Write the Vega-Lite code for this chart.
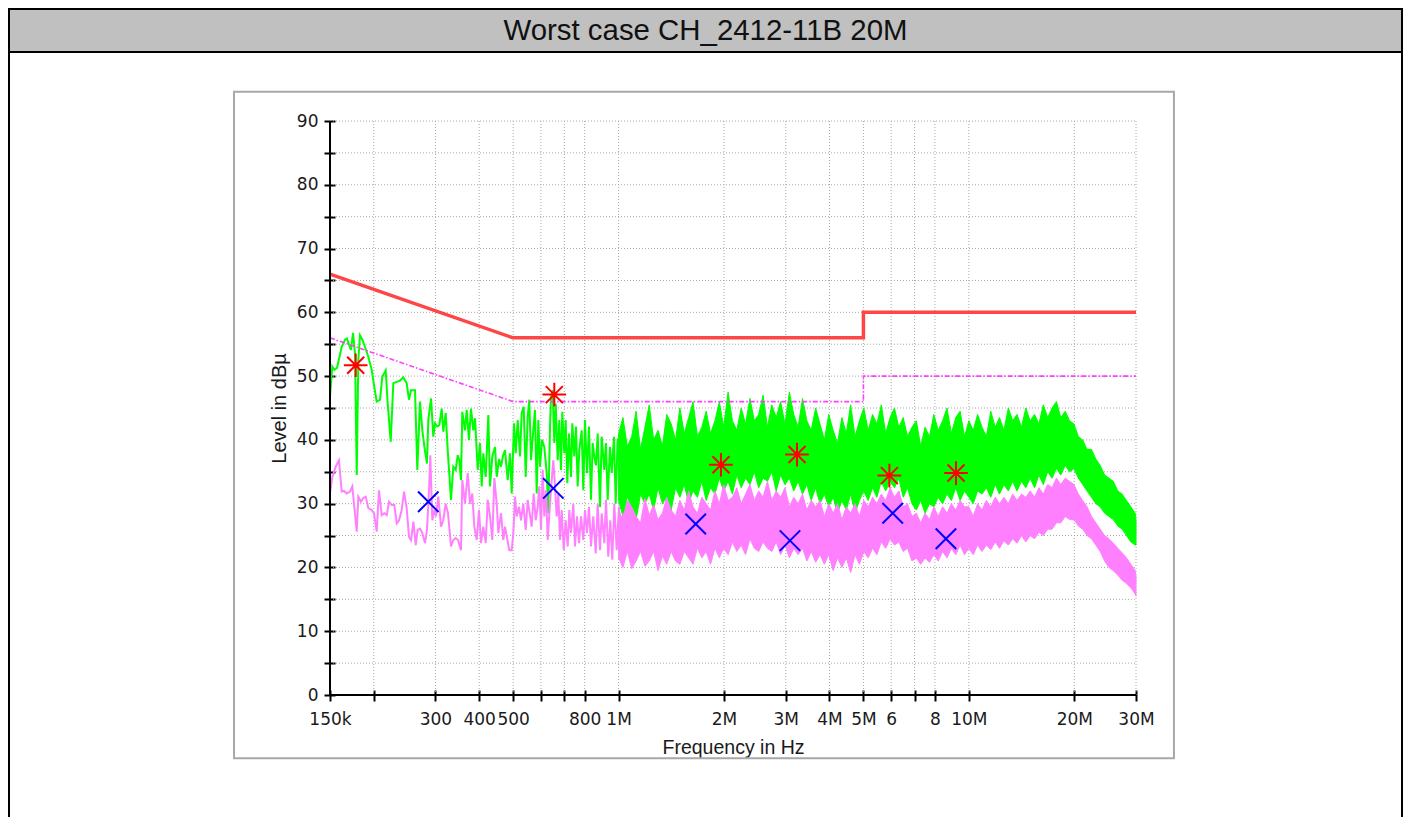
{
 "$schema": "https://vega.github.io/schema/vega-lite/v6.json",
 "background": "white",
 "padding": {"left": 8, "top": 8, "right": 0, "bottom": 0},
 "spacing": 0,
 "bounds": "flush",
 "datasets": {
  "green_sparse": [
   {"f":150000,"v":46.8},{"f":152300,"v":51.5},{"f":154300,"v":51.0},{"f":157100,"v":51.3},{"f":162000,"v":54.6},{"f":165500,"v":55.7},{"f":167700,"v":55.9},{"f":170000,"v":54.9},{"f":172200,"v":54.1},{"f":174500,"v":56.8},{"f":176800,"v":53.5},{"f":178800,"v":34.5},{"f":180700,"v":52.5},{"f":182700,"v":56.4},{"f":185500,"v":55.7},{"f":188800,"v":54.6},{"f":193000,"v":53.0},{"f":197300,"v":51.0},{"f":200700,"v":48.3},{"f":203900,"v":46.0},{"f":208400,"v":46.3},{"f":211600,"v":49.9},{"f":216300,"v":50.9},{"f":219200,"v":45.7},{"f":223600,"v":39.7},{"f":227400,"v":48.9},{"f":232600,"v":49.1},{"f":237600,"v":49.3},{"f":242900,"v":49.8},{"f":248300,"v":48.9},{"f":252100,"v":46.3},{"f":255500,"v":47.8},{"f":262300,"v":47.8},{"f":266300,"v":35.3},{"f":271000,"v":46.0},{"f":275200,"v":41.5},{"f":280100,"v":38.2},{"f":283800,"v":36.3},{"f":286200,"v":43.1},{"f":291400,"v":46.5},{"f":295800,"v":40.5},{"f":299100,"v":42.6},{"f":303700,"v":42.1},{"f":307700,"v":42.3},{"f":312600,"v":44.9},{"f":315900,"v":41.3},{"f":320900,"v":44.2},{"f":325200,"v":38.4},{"f":332300,"v":30.6},{"f":337400,"v":35.8},{"f":342700,"v":35.3},{"f":347300,"v":37.6},{"f":350900,"v":36.8},{"f":354900,"v":33.7},{"f":357900,"v":44.4},{"f":364300,"v":41.5},{"f":368400,"v":44.7},{"f":374000,"v":40.0},{"f":379000,"v":44.9},{"f":384800,"v":41.5},{"f":389100,"v":43.4},{"f":396100,"v":35.3},{"f":402100,"v":39.5},{"f":406600,"v":32.7},{"f":410900,"v":37.9},{"f":417500,"v":34.2},{"f":424700,"v":43.9},{"f":429400,"v":32.7},{"f":436000,"v":37.4},{"f":443800,"v":38.9},{"f":448800,"v":34.2},{"f":455600,"v":37.0},{"f":461600,"v":35.8},{"f":467700,"v":37.5},{"f":473900,"v":38.4},{"f":482400,"v":33.7},{"f":489800,"v":37.9},{"f":495300,"v":31.6},{"f":502800,"v":42.6},{"f":508500,"v":37.9},{"f":515200,"v":43.1},{"f":523100,"v":37.4},{"f":528900,"v":44.2},{"f":535900,"v":45.2},{"f":543000,"v":34.2},{"f":550200,"v":43.6},{"f":556000,"v":46.3},{"f":562300,"v":36.8},{"f":570800,"v":41.5},{"f":577200,"v":44.7},{"f":583700,"v":31.6},{"f":589900,"v":43.1},{"f":596500,"v":35.8},{"f":604400,"v":40.0},{"f":613600,"v":38.9},{"f":623400,"v":34.8},{"f":630000,"v":28.5},{"f":637100,"v":42.1},{"f":641300,"v":46.8},{"f":648500,"v":47.8},{"f":655300,"v":39.5},{"f":661400,"v":45.7},{"f":670100,"v":36.8},{"f":677200,"v":43.1},{"f":684800,"v":35.3},{"f":690700,"v":44.4},{"f":699800,"v":37.9},{"f":706300,"v":43.1},{"f":713800,"v":33.2},{"f":721800,"v":41.0},{"f":731300,"v":34.2},{"f":737600,"v":42.6},{"f":747300,"v":37.4},{"f":755700,"v":42.1},{"f":764200,"v":32.7},{"f":772300,"v":38.4},{"f":784600,"v":41.5},{"f":792900,"v":32.1},{"f":801800,"v":43.1},{"f":812400,"v":34.8},{"f":823200,"v":42.1},{"f":834000,"v":30.6},{"f":843400,"v":39.5},{"f":852300,"v":37.4},{"f":861900,"v":36.0},{"f":871600,"v":41.0},{"f":884900,"v":29.5},{"f":894800,"v":40.5},{"f":910200,"v":35.3},{"f":920500,"v":39.5},{"f":930800,"v":30.6},{"f":945000,"v":38.9},{"f":955600,"v":34.8},{"f":970200,"v":40.5},{"f":981100,"v":30.0},{"f":994000,"v":40.2},{"f":1009000,"v":35.8},{"f":1025000,"v":38.9},{"f":1038000,"v":31.6}
  ],
  "pink_sparse": [
   {"f":150000,"v":31.6},{"f":152300,"v":34.2},{"f":155700,"v":35.8},{"f":159100,"v":36.8},{"f":162000,"v":31.9},{"f":164500,"v":32.0},{"f":167400,"v":31.6},{"f":171100,"v":31.9},{"f":173700,"v":32.7},{"f":178800,"v":25.6},{"f":180700,"v":31.1},{"f":183900,"v":30.3},{"f":186700,"v":30.9},{"f":189700,"v":31.1},{"f":193000,"v":29.3},{"f":197300,"v":29.0},{"f":200300,"v":28.5},{"f":203900,"v":25.6},{"f":207000,"v":32.1},{"f":210700,"v":28.2},{"f":214400,"v":28.5},{"f":217800,"v":28.2},{"f":221100,"v":30.3},{"f":225000,"v":29.8},{"f":228900,"v":29.8},{"f":232600,"v":26.9},{"f":236100,"v":27.4},{"f":240300,"v":29.0},{"f":244000,"v":31.9},{"f":248300,"v":29.3},{"f":252100,"v":24.8},{"f":255500,"v":24.3},{"f":259500,"v":27.2},{"f":263500,"v":23.5},{"f":267000,"v":25.9},{"f":271000,"v":26.1},{"f":275200,"v":25.4},{"f":280100,"v":23.8},{"f":283800,"v":25.9},{"f":287600,"v":32.1},{"f":290000,"v":37.6},{"f":293900,"v":27.4},{"f":297800,"v":29.0},{"f":301100,"v":28.0},{"f":305700,"v":31.1},{"f":311200,"v":26.4},{"f":315900,"v":27.4},{"f":320900,"v":30.0},{"f":325800,"v":28.5},{"f":332300,"v":23.3},{"f":337400,"v":24.3},{"f":342700,"v":24.6},{"f":347900,"v":24.3},{"f":354900,"v":22.7},{"f":357900,"v":33.7},{"f":364300,"v":30.0},{"f":370900,"v":34.8},{"f":376500,"v":30.0},{"f":382200,"v":31.6},{"f":387300,"v":26.4},{"f":393500,"v":24.3},{"f":399500,"v":29.0},{"f":404800,"v":23.8},{"f":410900,"v":26.4},{"f":417500,"v":23.8},{"f":423000,"v":30.6},{"f":429400,"v":28.0},{"f":436000,"v":24.3},{"f":441800,"v":34.0},{"f":448800,"v":30.0},{"f":453500,"v":25.4},{"f":461600,"v":28.5},{"f":468700,"v":24.3},{"f":473900,"v":26.4},{"f":482400,"v":24.0},{"f":487500,"v":22.7},{"f":495300,"v":22.7},{"f":500600,"v":25.4},{"f":506200,"v":31.1},{"f":511800,"v":28.0},{"f":519600,"v":29.5},{"f":526500,"v":27.4},{"f":534500,"v":30.0},{"f":543000,"v":25.9},{"f":550200,"v":30.6},{"f":557400,"v":28.5},{"f":564800,"v":26.4},{"f":572300,"v":31.6},{"f":579900,"v":27.4},{"f":587600,"v":29.5},{"f":593800,"v":32.7},{"f":600400,"v":25.9},{"f":607200,"v":35.3},{"f":613600,"v":28.0},{"f":620500,"v":32.1},{"f":627500,"v":24.3},{"f":637100,"v":30.0},{"f":644200,"v":33.7},{"f":651000,"v":36.8},{"f":658300,"v":32.7},{"f":665700,"v":28.0},{"f":672800,"v":31.6},{"f":680300,"v":24.3},{"f":688000,"v":29.0},{"f":697100,"v":22.7},{"f":706300,"v":27.4},{"f":715600,"v":23.3},{"f":723200,"v":29.0},{"f":731300,"v":25.4},{"f":742400,"v":30.0},{"f":750800,"v":23.3},{"f":760700,"v":28.0},{"f":770800,"v":23.8},{"f":781000,"v":28.0},{"f":792900,"v":24.3},{"f":801800,"v":29.0},{"f":812400,"v":25.4},{"f":823200,"v":29.5},{"f":834000,"v":23.3},{"f":846700,"v":28.0},{"f":860200,"v":22.2},{"f":871600,"v":30.0},{"f":884900,"v":22.7},{"f":894800,"v":28.5},{"f":910200,"v":23.8},{"f":920500,"v":30.6},{"f":934400,"v":21.7},{"f":946800,"v":27.4},{"f":959300,"v":21.2},{"f":972000,"v":30.0},{"f":987500,"v":22.7},{"f":1002500,"v":29.5},{"f":1016000,"v":23.3},{"f":1031000,"v":28.5}
  ],
  "band": [
   {"f":1000000,"gl":30.5,"gh":41.0,"pl":21.5,"ph":29.0},
   {"f":1029000,"gl":28.0,"gh":43.5,"pl":20.0,"ph":27.5},
   {"f":1059000,"gl":31.0,"gh":39.0,"pl":22.5,"ph":30.5},
   {"f":1090000,"gl":29.5,"gh":40.5,"pl":19.8,"ph":29.5},
   {"f":1122000,"gl":27.5,"gh":44.5,"pl":21.0,"ph":28.0},
   {"f":1155000,"gl":31.5,"gh":38.5,"pl":22.5,"ph":27.0},
   {"f":1189000,"gl":30.0,"gh":42.0,"pl":20.2,"ph":30.8},
   {"f":1223000,"gl":31.5,"gh":45.5,"pl":21.0,"ph":28.2},
   {"f":1259000,"gl":29.0,"gh":40.0,"pl":22.5,"ph":29.8},
   {"f":1296000,"gl":32.5,"gh":41.5,"pl":19.5,"ph":27.5},
   {"f":1334000,"gl":30.0,"gh":39.0,"pl":21.8,"ph":28.5},
   {"f":1372000,"gl":31.0,"gh":44.0,"pl":20.5,"ph":31.0},
   {"f":1413000,"gl":29.0,"gh":42.5,"pl":22.5,"ph":29.0},
   {"f":1454000,"gl":32.5,"gh":40.0,"pl":21.0,"ph":28.0},
   {"f":1496000,"gl":31.0,"gh":45.0,"pl":20.5,"ph":30.5},
   {"f":1540000,"gl":33.0,"gh":41.0,"pl":22.5,"ph":29.0},
   {"f":1585000,"gl":30.0,"gh":43.5,"pl":21.5,"ph":32.0},
   {"f":1631000,"gl":32.0,"gh":46.0,"pl":20.5,"ph":29.5},
   {"f":1679000,"gl":31.0,"gh":40.5,"pl":23.0,"ph":28.5},
   {"f":1728000,"gl":33.5,"gh":42.0,"pl":21.5,"ph":31.0},
   {"f":1778000,"gl":30.5,"gh":44.5,"pl":22.5,"ph":30.0},
   {"f":1830000,"gl":32.5,"gh":41.0,"pl":20.5,"ph":29.0},
   {"f":1884000,"gl":31.5,"gh":43.0,"pl":23.0,"ph":32.0},
   {"f":1939000,"gl":34.0,"gh":46.0,"pl":21.5,"ph":30.0},
   {"f":1995000,"gl":32.0,"gh":42.0,"pl":23.0,"ph":33.0},
   {"f":2054000,"gl":33.5,"gh":47.5,"pl":22.0,"ph":30.5},
   {"f":2113000,"gl":31.5,"gh":43.0,"pl":24.0,"ph":31.0},
   {"f":2175000,"gl":34.5,"gh":41.5,"pl":22.5,"ph":32.5},
   {"f":2239000,"gl":32.5,"gh":45.0,"pl":23.5,"ph":30.0},
   {"f":2304000,"gl":34.0,"gh":42.5,"pl":22.0,"ph":31.5},
   {"f":2371000,"gl":33.0,"gh":46.5,"pl":24.5,"ph":33.0},
   {"f":2441000,"gl":35.0,"gh":43.0,"pl":23.0,"ph":30.5},
   {"f":2512000,"gl":32.5,"gh":44.0,"pl":22.5,"ph":32.0},
   {"f":2585000,"gl":34.0,"gh":47.0,"pl":24.0,"ph":31.0},
   {"f":2661000,"gl":33.5,"gh":42.0,"pl":23.0,"ph":33.5},
   {"f":2738000,"gl":35.0,"gh":45.5,"pl":22.5,"ph":30.5},
   {"f":2818000,"gl":32.0,"gh":43.5,"pl":24.0,"ph":32.0},
   {"f":2901000,"gl":34.5,"gh":46.0,"pl":22.0,"ph":31.0},
   {"f":2985000,"gl":33.0,"gh":42.5,"pl":23.5,"ph":32.5},
   {"f":3073000,"gl":34.0,"gh":47.5,"pl":21.5,"ph":29.5},
   {"f":3162000,"gl":32.0,"gh":44.0,"pl":23.0,"ph":31.0},
   {"f":3255000,"gl":33.5,"gh":42.0,"pl":22.0,"ph":30.0},
   {"f":3350000,"gl":31.5,"gh":46.5,"pl":23.0,"ph":31.5},
   {"f":3447000,"gl":33.0,"gh":43.0,"pl":21.0,"ph":29.0},
   {"f":3548000,"gl":30.5,"gh":41.5,"pl":22.5,"ph":30.5},
   {"f":3652000,"gl":32.5,"gh":45.0,"pl":20.8,"ph":29.5},
   {"f":3758000,"gl":30.0,"gh":42.5,"pl":22.0,"ph":30.5},
   {"f":3868000,"gl":31.5,"gh":40.0,"pl":20.5,"ph":28.0},
   {"f":3981000,"gl":29.5,"gh":44.0,"pl":22.0,"ph":30.0},
   {"f":4097000,"gl":31.0,"gh":41.5,"pl":19.5,"ph":28.5},
   {"f":4217000,"gl":28.5,"gh":39.5,"pl":21.5,"ph":30.0},
   {"f":4340000,"gl":30.5,"gh":43.5,"pl":20.0,"ph":27.5},
   {"f":4467000,"gl":29.0,"gh":41.0,"pl":21.5,"ph":29.5},
   {"f":4597000,"gl":31.5,"gh":45.5,"pl":19.2,"ph":28.5},
   {"f":4732000,"gl":28.5,"gh":40.5,"pl":22.0,"ph":30.0},
   {"f":4870000,"gl":30.5,"gh":43.0,"pl":20.5,"ph":28.0},
   {"f":5012000,"gl":32.0,"gh":45.0,"pl":22.5,"ph":30.5},
   {"f":5158000,"gl":30.5,"gh":41.5,"pl":21.5,"ph":29.5},
   {"f":5309000,"gl":32.5,"gh":44.0,"pl":23.0,"ph":31.0},
   {"f":5464000,"gl":31.0,"gh":42.5,"pl":22.0,"ph":30.0},
   {"f":5623000,"gl":33.5,"gh":45.5,"pl":24.0,"ph":31.5},
   {"f":5788000,"gl":32.0,"gh":41.0,"pl":23.0,"ph":30.5},
   {"f":5957000,"gl":33.5,"gh":43.5,"pl":24.5,"ph":32.5},
   {"f":6131000,"gl":32.5,"gh":45.0,"pl":23.5,"ph":31.0},
   {"f":6310000,"gl":34.0,"gh":42.0,"pl":24.0,"ph":32.0},
   {"f":6494000,"gl":31.0,"gh":43.5,"pl":22.5,"ph":29.5},
   {"f":6683000,"gl":32.5,"gh":40.5,"pl":23.0,"ph":30.0},
   {"f":6879000,"gl":30.0,"gh":42.0,"pl":21.0,"ph":28.0},
   {"f":7079000,"gl":29.0,"gh":43.0,"pl":21.5,"ph":28.5},
   {"f":7286000,"gl":30.5,"gh":39.0,"pl":20.5,"ph":27.0},
   {"f":7499000,"gl":28.5,"gh":42.0,"pl":21.5,"ph":28.5},
   {"f":7718000,"gl":30.0,"gh":40.5,"pl":20.8,"ph":27.5},
   {"f":7943000,"gl":29.5,"gh":44.0,"pl":22.0,"ph":29.5},
   {"f":8175000,"gl":31.0,"gh":41.5,"pl":21.0,"ph":28.0},
   {"f":8414000,"gl":30.0,"gh":43.0,"pl":22.5,"ph":29.5},
   {"f":8660000,"gl":31.5,"gh":45.0,"pl":21.5,"ph":28.5},
   {"f":8913000,"gl":30.5,"gh":41.0,"pl":23.0,"ph":30.0},
   {"f":9173000,"gl":32.5,"gh":43.5,"pl":22.0,"ph":29.0},
   {"f":9441000,"gl":30.5,"gh":44.5,"pl":23.5,"ph":30.5},
   {"f":9716000,"gl":32.0,"gh":40.5,"pl":22.0,"ph":29.5},
   {"f":10000000,"gl":31.0,"gh":43.0,"pl":23.0,"ph":29.5},
   {"f":10290000,"gl":30.0,"gh":41.5,"pl":22.0,"ph":28.0},
   {"f":10590000,"gl":32.0,"gh":44.0,"pl":23.5,"ph":30.0},
   {"f":10900000,"gl":31.5,"gh":42.0,"pl":22.5,"ph":29.0},
   {"f":11220000,"gl":32.5,"gh":40.5,"pl":23.5,"ph":30.5},
   {"f":11550000,"gl":31.0,"gh":44.5,"pl":22.8,"ph":29.5},
   {"f":11890000,"gl":33.0,"gh":42.0,"pl":24.0,"ph":31.0},
   {"f":12230000,"gl":31.5,"gh":43.5,"pl":23.0,"ph":30.0},
   {"f":12590000,"gl":33.0,"gh":41.5,"pl":24.2,"ph":31.0},
   {"f":12960000,"gl":32.0,"gh":45.0,"pl":23.5,"ph":30.0},
   {"f":13340000,"gl":33.5,"gh":43.0,"pl":24.5,"ph":31.5},
   {"f":13720000,"gl":32.0,"gh":44.0,"pl":23.8,"ph":30.5},
   {"f":14130000,"gl":33.5,"gh":42.0,"pl":25.0,"ph":31.5},
   {"f":14540000,"gl":32.5,"gh":45.0,"pl":24.0,"ph":31.0},
   {"f":14960000,"gl":34.0,"gh":43.0,"pl":25.0,"ph":32.0},
   {"f":15400000,"gl":32.5,"gh":44.0,"pl":24.5,"ph":31.0},
   {"f":15850000,"gl":34.5,"gh":42.5,"pl":25.5,"ph":32.5},
   {"f":16310000,"gl":33.0,"gh":45.5,"pl":25.0,"ph":31.5},
   {"f":16790000,"gl":35.0,"gh":43.5,"pl":26.0,"ph":33.0},
   {"f":17280000,"gl":34.0,"gh":45.0,"pl":26.0,"ph":32.5},
   {"f":17780000,"gl":35.5,"gh":46.0,"pl":27.0,"ph":34.0},
   {"f":18300000,"gl":34.5,"gh":43.5,"pl":27.0,"ph":33.0},
   {"f":18840000,"gl":36.0,"gh":44.5,"pl":28.0,"ph":34.0},
   {"f":19390000,"gl":35.0,"gh":43.0,"pl":27.5,"ph":33.5},
   {"f":19950000,"gl":35.5,"gh":42.5,"pl":27.5,"ph":33.0},
   {"f":20540000,"gl":34.0,"gh":40.5,"pl":26.5,"ph":31.5},
   {"f":21130000,"gl":33.0,"gh":40.0,"pl":26.0,"ph":30.5},
   {"f":21750000,"gl":32.0,"gh":38.5,"pl":25.0,"ph":29.5},
   {"f":22390000,"gl":31.0,"gh":38.5,"pl":24.5,"ph":28.0},
   {"f":23040000,"gl":30.0,"gh":37.0,"pl":23.5,"ph":27.0},
   {"f":23710000,"gl":29.5,"gh":36.0,"pl":22.5,"ph":26.0},
   {"f":24410000,"gl":28.5,"gh":34.5,"pl":21.0,"ph":25.0},
   {"f":25120000,"gl":28.0,"gh":34.0,"pl":20.0,"ph":24.5},
   {"f":25850000,"gl":27.5,"gh":33.5,"pl":19.5,"ph":23.8},
   {"f":26610000,"gl":26.5,"gh":32.0,"pl":18.8,"ph":23.0},
   {"f":27380000,"gl":26.0,"gh":31.5,"pl":18.0,"ph":22.3},
   {"f":28180000,"gl":25.0,"gh":30.5,"pl":17.5,"ph":21.5},
   {"f":29010000,"gl":24.0,"gh":29.5,"pl":16.8,"ph":20.5},
   {"f":29850000,"gl":23.5,"gh":28.5,"pl":15.8,"ph":19.5},
   {"f":30000000,"gl":23.5,"gh":27.5,"pl":15.5,"ph":18.5}
  ],
  "qp_limit": [{"f":150000,"v":66,"i":0},{"f":500000,"v":56,"i":1},{"f":5000000,"v":56,"i":2},{"f":5000000,"v":60,"i":3},{"f":30000000,"v":60,"i":4}],
  "av_limit": [{"f":150000,"v":56,"i":0},{"f":500000,"v":46,"i":1},{"f":5000000,"v":46,"i":2},{"f":5000000,"v":50,"i":3},{"f":30000000,"v":50,"i":4}],
  "qp_peaks": [{"f":177600,"v":51.7},{"f":655300,"v":47.1},{"f":1960000,"v":36.1},{"f":3231000,"v":37.7},{"f":5930000,"v":34.4},{"f":9190000,"v":34.8}],
  "av_peaks": [{"f":286200,"v":30.3},{"f":651000,"v":32.4},{"f":1660000,"v":26.8},{"f":3085000,"v":24.2},{"f":6060000,"v":28.5},{"f":8600000,"v":24.5}],
  "xgrid": [{"f":200000},{"f":300000},{"f":400000},{"f":500000},{"f":600000},{"f":700000},{"f":800000},{"f":1000000},{"f":2000000},{"f":3000000},{"f":4000000},{"f":5000000},{"f":6000000},{"f":7000000},{"f":8000000},{"f":10000000},{"f":20000000},{"f":30000000}],
  "ygrid": [{"v":5},{"v":10},{"v":15},{"v":20},{"v":25},{"v":30},{"v":35},{"v":40},{"v":45},{"v":50},{"v":55},{"v":60},{"v":65},{"v":70},{"v":75},{"v":80},{"v":85},{"v":90}]
 },
 "vconcat": [
  {
   "width": 1393,
   "height": 43,
   "view": {"fill": "#c0c0c0", "stroke": "#000000", "strokeWidth": 2},
   "data": {"values": [{"t": "Worst case CH_2412-11B 20M"}]},
   "mark": {"type": "text", "font": "Liberation Sans", "fontSize": 29.4, "fill": "#111111", "align": "center", "baseline": "middle"},
   "encoding": {"text": {"field": "t", "type": "nominal"}}
  },
  {
   "width": 1393,
   "height": 770,
   "view": {"fill": "#ffffff", "stroke": "#000000", "strokeWidth": 2},
   "layer": [
    {
     "data": {"name": "green_sparse"},
     "mark": {"type": "line", "stroke": "#00ff00", "strokeWidth": 2, "opacity": 0},
     "encoding": {
      "x": {
       "field": "f", "type": "quantitative", "title": "Frequency in Hz",
       "scale": {"type": "log", "domain": [150000, 30000000], "range": [321, 1127], "nice": false},
       "axis": {
        "offset": -132, "domain": false, "grid": false,
        "values": [150000, 200000, 300000, 400000, 500000, 600000, 700000, 800000, 1000000, 2000000, 3000000, 4000000, 5000000, 6000000, 7000000, 8000000, 10000000, 20000000, 30000000],
        "labelExpr": "datum.value==150000?'150k':datum.value==300000?'300':datum.value==400000?'400':datum.value==500000?'500':datum.value==800000?'800':datum.value==1000000?'1M':datum.value==2000000?'2M':datum.value==3000000?'3M':datum.value==4000000?'4M':datum.value==5000000?'5M':datum.value==6000000?'6':datum.value==8000000?'8':datum.value==10000000?'10M':datum.value==20000000?'20M':datum.value==30000000?'30M':''",
        "tickSize": 11, "tickWidth": 2, "tickColor": "#000000",
        "labelFont": "DejaVu Sans", "labelFontSize": 17, "labelColor": "#1a1a1a", "labelPadding": 10,
        "labelOverlap": false, "labelFlush": false, "labelBound": false,
        "title": "Frequency in Hz", "titleFont": "Liberation Sans", "titleFontSize": 19.5, "titleFontWeight": "normal", "titleColor": "#1a1a1a", "titlePadding": 11
       }
      },
      "y": {
       "field": "v", "type": "quantitative", "title": "Level in dBµ",
       "scale": {"domain": [0, 90], "range": [643, 69], "nice": false, "zero": false},
       "axis": {
        "offset": -326, "domain": false, "grid": false,
        "values": [0, 5, 10, 15, 20, 25, 30, 35, 40, 45, 50, 55, 60, 65, 70, 75, 80, 85, 90],
        "labelExpr": "datum.value % 10 == 0 ? datum.label : ''",
        "tickSize": 11, "tickWidth": 2, "tickColor": "#000000",
        "labelFont": "DejaVu Sans", "labelFontSize": 17, "labelColor": "#1a1a1a", "labelPadding": 6,
        "labelOverlap": false, "labelFlush": false, "labelBound": false,
        "title": "Level in dBµ", "titleFont": "Liberation Sans", "titleFontSize": 20, "titleFontWeight": "normal", "titleColor": "#1a1a1a", "titlePadding": 7
       }
      }
     }
    },
    {
     "data": {"values": [{"p": 1}]},
     "mark": {"type": "rect", "fill": "transparent", "stroke": "#a8a8a8", "strokeWidth": 2},
     "encoding": {
      "x": {"datum": 79800, "type": "quantitative"},
      "x2": {"datum": 38500000},
      "y": {"datum": 94.6, "type": "quantitative"},
      "y2": {"datum": -9.9}
     }
    },
    {
     "data": {"name": "ygrid"},
     "mark": {"type": "rule", "stroke": "#a8a8a8", "strokeWidth": 1, "strokeDash": [1, 2]},
     "encoding": {
      "x": {"datum": 150000, "type": "quantitative"},
      "x2": {"datum": 30000000},
      "y": {"field": "v", "type": "quantitative", "title": "Level in dBµ"}
     }
    },
    {
     "data": {"name": "xgrid"},
     "mark": {"type": "rule", "stroke": "#a8a8a8", "strokeWidth": 1, "strokeDash": [1, 2]},
     "encoding": {
      "x": {"field": "f", "type": "quantitative", "title": "Frequency in Hz"},
      "y": {"datum": 0, "type": "quantitative"},
      "y2": {"datum": 90}
     }
    },
    {
     "data": {"name": "band"},
     "mark": {"type": "area", "fill": "#00ff00", "stroke": "#00ff00", "strokeWidth": 1},
     "encoding": {
      "x": {"field": "f", "type": "quantitative", "title": "Frequency in Hz"},
      "y": {"field": "gh", "type": "quantitative", "title": "Level in dBµ"},
      "y2": {"field": "gl"}
     }
    },
    {
     "data": {"name": "green_sparse"},
     "mark": {"type": "line", "stroke": "#00ff00", "strokeWidth": 2},
     "encoding": {
      "x": {"field": "f", "type": "quantitative", "title": "Frequency in Hz"},
      "y": {"field": "v", "type": "quantitative", "title": "Level in dBµ"}
     }
    },
    {
     "data": {"name": "band"},
     "mark": {"type": "area", "fill": "#ff80ff", "stroke": "#ff80ff", "strokeWidth": 1},
     "encoding": {
      "x": {"field": "f", "type": "quantitative", "title": "Frequency in Hz"},
      "y": {"field": "ph", "type": "quantitative", "title": "Level in dBµ"},
      "y2": {"field": "pl"}
     }
    },
    {
     "data": {"name": "pink_sparse"},
     "mark": {"type": "line", "stroke": "#ff80ff", "strokeWidth": 2},
     "encoding": {
      "x": {"field": "f", "type": "quantitative", "title": "Frequency in Hz"},
      "y": {"field": "v", "type": "quantitative", "title": "Level in dBµ"}
     }
    },
    {
     "data": {"name": "qp_limit"},
     "mark": {"type": "line", "stroke": "#ff4646", "strokeWidth": 3.5},
     "encoding": {
      "x": {"field": "f", "type": "quantitative", "title": "Frequency in Hz"},
      "y": {"field": "v", "type": "quantitative", "title": "Level in dBµ"},
      "order": {"field": "i", "type": "quantitative"}
     }
    },
    {
     "data": {"name": "av_limit"},
     "mark": {"type": "line", "stroke": "#ff40ff", "strokeWidth": 1.6, "strokeDash": [5, 2, 1.5, 2]},
     "encoding": {
      "x": {"field": "f", "type": "quantitative", "title": "Frequency in Hz"},
      "y": {"field": "v", "type": "quantitative", "title": "Level in dBµ"},
      "order": {"field": "i", "type": "quantitative"}
     }
    },
    {
     "data": {"values": [{"a": 1}]},
     "mark": {"type": "rule", "stroke": "#000000", "strokeWidth": 2},
     "encoding": {
      "x": {"datum": 150000, "type": "quantitative"},
      "x2": {"datum": 30000000},
      "y": {"datum": 0, "type": "quantitative"}
     }
    },
    {
     "data": {"values": [{"a": 1}]},
     "mark": {"type": "rule", "stroke": "#000000", "strokeWidth": 2},
     "encoding": {
      "x": {"datum": 150000, "type": "quantitative"},
      "y": {"datum": 0, "type": "quantitative"},
      "y2": {"datum": 90}
     }
    },
    {
     "data": {"name": "qp_peaks"},
     "mark": {"type": "point", "shape": "M-1,0L1,0M0,-1L0,1M-0.72,-0.72L0.72,0.72M-0.72,0.72L0.72,-0.72", "filled": false, "stroke": "#ff0000", "strokeWidth": 2, "size": 560, "opacity": 1},
     "encoding": {
      "x": {"field": "f", "type": "quantitative", "title": "Frequency in Hz"},
      "y": {"field": "v", "type": "quantitative", "title": "Level in dBµ"}
     }
    },
    {
     "data": {"name": "av_peaks"},
     "mark": {"type": "point", "shape": "M-1,-1L1,1M-1,1L1,-1", "filled": false, "stroke": "#0000ff", "strokeWidth": 2, "size": 420, "opacity": 1},
     "encoding": {
      "x": {"field": "f", "type": "quantitative", "title": "Frequency in Hz"},
      "y": {"field": "v", "type": "quantitative", "title": "Level in dBµ"}
     }
    }
   ]
  }
 ]
}
